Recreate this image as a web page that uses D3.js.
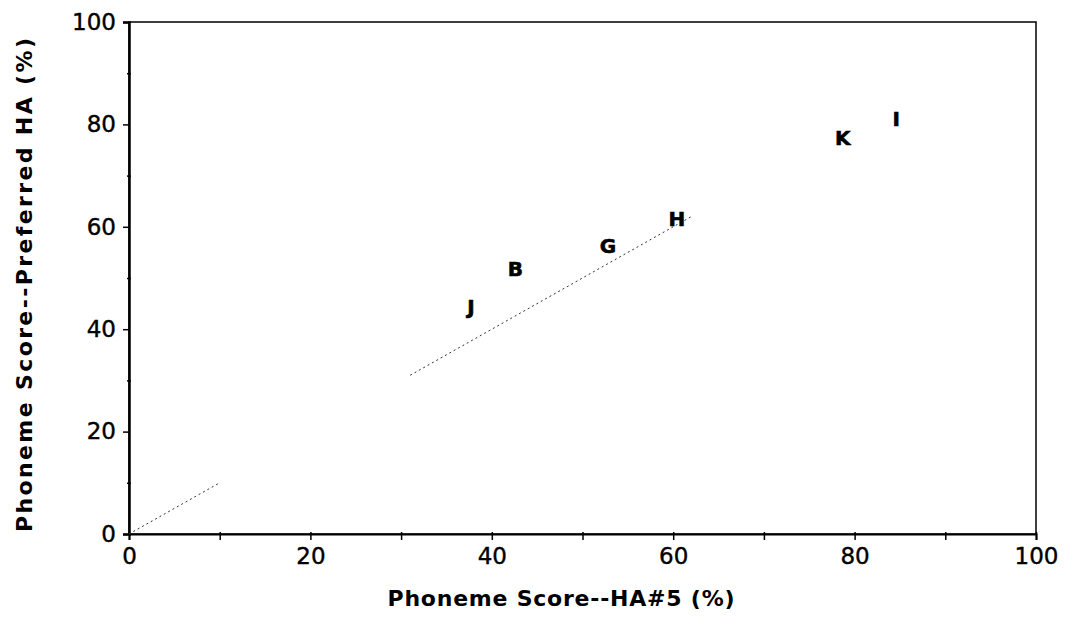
<!DOCTYPE html>
<html>
<head>
<meta charset="utf-8">
<script src="https://cdn.jsdelivr.net/npm/d3@7"></script>
<style>
  html, body { margin: 0; padding: 0; background: #fff; }
  svg { display: block; }
  .tick text { font-family: "DejaVu Sans", sans-serif; font-size: 23px; fill: #000; stroke: #000; stroke-width: 0.4px; }
</style>
</head>
<body>
<svg id="chart" width="1065" height="617"></svg>
<script>
// Subject labels and their scores (%)
const subjects = ["J", "B", "G", "H", "K", "I"];
const scoreHA5 = [37.7, 42.6, 52.8, 60.4, 78.7, 84.6];
const scorePreferred = [44.4, 51.8, 56.2, 61.6, 77.4, 81.0];

// Equal-score reference line (y = x), drawn in two stretches
const refSegments = [[0, 10], [31, 62]];

const xTicks = [0, 10, 20, 30, 40, 50, 60, 70, 80, 90, 100];
const yTicks = [0, 10, 20, 30, 40, 50, 60, 70, 80, 90, 100];
const labelledTicks = [0, 20, 40, 60, 80, 100];

const svg = d3.select("#chart");
const plotLeft = 129, plotRight = 1036, plotTop = 22, plotBottom = 534;

const x = d3.scaleLinear().domain([0, 100]).range([plotLeft, plotRight]);
const y = d3.scaleLinear().domain([0, 100]).range([plotBottom, plotTop]);

// Frame
svg.append("rect")
  .attr("x", plotLeft).attr("y", plotTop)
  .attr("width", plotRight - plotLeft).attr("height", plotBottom - plotTop)
  .attr("fill", "none").attr("stroke", "#000").attr("stroke-width", 1.5);

// Bottom axis
const xAxis = svg.append("g")
  .attr("transform", `translate(0,${plotBottom})`)
  .call(d3.axisBottom(x).tickValues(xTicks).tickSize(6).tickPadding(8)
    .tickFormat(d => labelledTicks.includes(d) ? d : ""));
xAxis.select(".domain").attr("stroke-width", 2);
xAxis.selectAll(".tick line").attr("stroke-width", 1.5).attr("y1", -2);

// Left axis
const yAxis = svg.append("g")
  .attr("transform", `translate(${plotLeft},0)`)
  .call(d3.axisLeft(y).tickValues(yTicks).tickSize(6).tickPadding(7)
    .tickFormat(d => labelledTicks.includes(d) ? d : ""));
yAxis.select(".domain").attr("stroke-width", 2.5);
yAxis.selectAll(".tick line").attr("stroke-width", 1.5)
  .attr("x2", d => labelledTicks.includes(d) ? -6 : -2)
  .attr("x1", d => labelledTicks.includes(d) ? 0 : 2);

// Reference line
svg.append("g").selectAll("line")
  .data(refSegments)
  .join("line")
  .attr("x1", d => x(d[0])).attr("y1", d => y(d[0]))
  .attr("x2", d => x(d[1])).attr("y2", d => y(d[1]))
  .attr("stroke", "#333").attr("stroke-width", 1)
  .attr("stroke-dasharray", "2,3");

// Subject letters as markers
svg.append("g").selectAll("text")
  .data(subjects)
  .join("text")
  .attr("x", (d, i) => x(scoreHA5[i]))
  .attr("y", (d, i) => y(scorePreferred[i]))
  .attr("dy", "0.36em")
  .attr("text-anchor", "middle")
  .attr("font-family", "DejaVu Sans, sans-serif")
  .attr("font-weight", "bold")
  .attr("font-size", 20)
  .attr("stroke", "#000").attr("stroke-width", 0.6)
  .text(d => d);

// Axis titles
svg.append("text")
  .attr("x", 561).attr("y", 606)
  .attr("text-anchor", "middle")
  .attr("font-family", "DejaVu Sans, sans-serif")
  .attr("font-weight", "bold")
  .attr("font-size", 22)
  .attr("textLength", 347).attr("lengthAdjust", "spacing")
  .text("Phoneme Score--HA#5 (%)");

svg.append("text")
  .attr("transform", "translate(32,285) rotate(-90)")
  .attr("text-anchor", "middle")
  .attr("font-family", "DejaVu Sans, sans-serif")
  .attr("font-weight", "bold")
  .attr("font-size", 22)
  .attr("textLength", 494).attr("lengthAdjust", "spacing")
  .text("Phoneme Score--Preferred HA (%)");
</script>
</body>
</html>
